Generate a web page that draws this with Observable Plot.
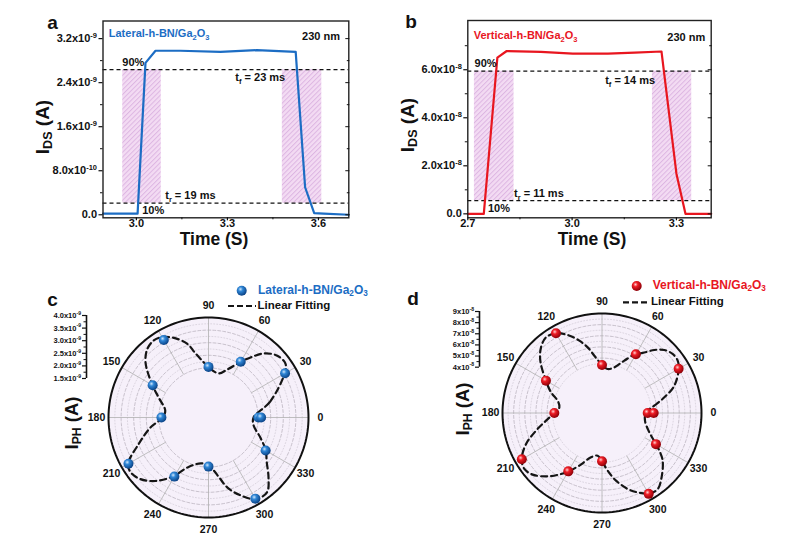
<!DOCTYPE html>
<html><head><meta charset="utf-8">
<script src="https://cdn.jsdelivr.net/npm/d3@7"></script>
<script src="https://cdn.jsdelivr.net/npm/@observablehq/plot@0.6"></script>
<style>
html,body{margin:0;padding:0;background:#fff;}
#root{position:relative;width:787px;height:538px;overflow:hidden;background:#fff;font-family:"Liberation Sans",Arial,sans-serif;font-weight:bold;color:#111;}
.ttl{position:absolute;font-size:17.5px;font-weight:bold;white-space:nowrap;transform:translate(-50%,-50%);line-height:1;}
.rot{transform:translate(-50%,-50%) rotate(-90deg);}
.big{font-size:19px;}
.mid{font-size:18.5px;}
.ttl sub{font-size:66%;vertical-align:-0.28em;}
.plab{position:absolute;font-size:19px;font-weight:bold;transform:translate(-50%,-50%);line-height:1;}
.leg{position:absolute;font-size:11.5px;font-weight:bold;white-space:nowrap;transform:translateY(-50%);line-height:1;}
.leg sub{font-size:68%;vertical-align:-0.25em;}
</style></head>
<body><div id="root">
<svg width="0" height="0" style="position:absolute;left:0;top:0">
<defs>
<pattern id="hatch" patternUnits="userSpaceOnUse" width="3.4" height="3.4" patternTransform="rotate(45)">
<rect width="3.4" height="3.4" fill="#f3dbf3"/>
<line x1="0.5" y1="0" x2="0.5" y2="3.4" stroke="#ddb6e2" stroke-width="1"/>
</pattern>
<radialGradient id="ballBlue" cx="0.38" cy="0.35" r="0.65">
<stop offset="0" stop-color="#cfe6fb"/><stop offset="0.35" stop-color="#2f86d6"/><stop offset="1" stop-color="#0b4386"/>
</radialGradient>
<radialGradient id="ballRed" cx="0.38" cy="0.35" r="0.65">
<stop offset="0" stop-color="#ffd0d0"/><stop offset="0.35" stop-color="#ee1c25"/><stop offset="1" stop-color="#8e0008"/>
</radialGradient>
</defs></svg>
</div>
<script>
// ---------- Panel a data ----------
const aTime = [2.89, 3.004, 3.030, 3.063, 3.145, 3.277, 3.397, 3.525, 3.556, 3.586, 3.617, 3.70];
const aCurrent = [0.02e-9, 0.02e-9, 2.76e-9, 2.98e-9, 2.98e-9, 2.96e-9, 2.99e-9, 2.96e-9, 0.50e-9, 0.03e-9, 0.02e-9, 0.0];
const aLevels = [2.636e-9, 0.21e-9];           // 90% and 10%
const aWindowStart = [2.955, 3.481];
const aWindowEnd = [3.082, 3.611];
const aXTicks = [3.0, 3.3, 3.6];
const aXMinor = [3.15, 3.45];
const aYTicks = [0, 0.8e-9, 1.6e-9, 2.4e-9, 3.2e-9];
const aYTickLabels = ["0.0", "8.0x10^{-10}", "1.6x10^{-9}", "2.4x10^{-9}", "3.2x10^{-9}"];
const aYMinor = [0.4e-9, 1.2e-9, 2.0e-9, 2.8e-9];

// ---------- Panel b data ----------
const bTime = [2.70, 2.746, 2.785, 2.812, 2.910, 3.002, 3.103, 3.180, 3.257, 3.300, 3.326, 3.40];
const bCurrent = [0, 0, 6.50e-8, 6.78e-8, 6.74e-8, 6.67e-8, 6.67e-8, 6.71e-8, 6.76e-8, 1.67e-8, 0, 0];
const bLevels = [5.94e-8, 0.55e-8];
const bWindowStart = [2.719, 3.231];
const bWindowEnd = [2.833, 3.344];
const bXTicks = [2.7, 3.0, 3.3];
const bXMinor = [2.85, 3.15];
const bYTicks = [0, 2e-8, 4e-8, 6e-8];
const bYTickLabels = ["0.0", "2.0x10^{-8}", "4.0x10^{-8}", "6.0x10^{-8}"];
const bYMinor = [1e-8, 3e-8, 5e-8, 7e-8];

// ---------- Panel c data (polar) ----------
const cAngle = [0, 30, 60, 90, 120, 150, 180, 210, 240, 270, 300, 330, 360];
const cValue = [2.01e-9, 3.54e-9, 2.59e-9, 2.04e-9, 3.58e-9, 2.59e-9, 1.90e-9, 3.70e-9, 2.74e-9, 1.98e-9, 3.75e-9, 2.65e-9, 2.12e-9];
const cFitAngle = [0, 14.5, 30, 35, 42, 49, 55, 60, 69, 77, 90, 95, 102, 106, 114, 121, 126, 132, 139, 150, 158, 171, 180, 190, 201, 210, 215, 222, 230, 239, 247, 262, 274, 280, 285, 292, 300, 308, 315, 323, 330, 339, 350];
const cFitValue = [1.82, 2.56, 3.52, 3.76, 3.70, 3.40, 2.94, 2.58, 2.06, 1.83, 2.02, 2.23, 2.67, 3.07, 3.50, 3.74, 3.78, 3.67, 3.34, 2.60, 2.17, 1.77, 1.86, 2.38, 3.01, 3.72, 3.81, 3.68, 3.32, 2.76, 2.19, 1.87, 2.08, 2.44, 2.90, 3.35, 3.77, 3.80, 3.40, 2.92, 2.66, 2.23, 1.85].map(v => v * 1e-9);
const cRadTicks = [1.5e-9, 2.0e-9, 2.5e-9, 3.0e-9, 3.5e-9, 4.0e-9];
const cRadTickLabels = ["1.5x10^{-9}", "2.0x10^{-9}", "2.5x10^{-9}", "3.0x10^{-9}", "3.5x10^{-9}", "4.0x10^{-9}"];
const cGridMajor = [2.0e-9, 2.5e-9, 3.0e-9, 3.5e-9];
const cGridMinor = [2.25e-9, 2.75e-9, 3.25e-9, 3.75e-9];

// ---------- Panel d data (polar) ----------
const dAngle = [0, 30, 60, 90, 120, 150, 180, 210, 240, 270, 300, 330, 360];
const dValue = [4.17e-8, 8.01e-8, 6.15e-8, 4.38e-8, 8.33e-8, 5.88e-8, 4.35e-8, 8.38e-8, 6.12e-8, 4.40e-8, 8.45e-8, 5.66e-8, 4.71e-8];
const dFitAngle = [0.9, 8, 14.1, 20.7, 29.9, 34.7, 39.9, 45.3, 50.3, 55.9, 60.5, 66.9, 74.9, 82.7, 90, 97.6, 102.3, 107.4, 113.8, 120, 126.5, 132.9, 139.7, 150, 157.9, 164.5, 172.4, 180, 187.8, 195, 202.2, 209.8, 215.8, 221.6, 229.4, 236.1, 240, 246.7, 256, 264.2, 270, 275.6, 281.7, 288.7, 294.2, 300.5, 306.2, 312.8, 321.8, 326.7, 330.1, 337.8, 349.9];
const dFitValue = [4.02, 4.81, 5.84, 7.01, 8.01, 8.33, 8.33, 8.03, 7.42, 6.58, 6.15, 5.18, 4.31, 4.05, 4.38, 5.26, 6.10, 6.88, 7.72, 8.33, 8.52, 8.11, 7.33, 5.88, 5.01, 4.20, 3.93, 4.35, 5.14, 6.20, 7.43, 8.38, 8.66, 8.40, 7.56, 6.67, 6.12, 5.21, 4.17, 3.92, 4.40, 5.27, 6.27, 7.27, 7.88, 8.45, 8.53, 7.94, 7.00, 6.23, 5.66, 4.66, 3.99].map(v => v * 1e-8);
const dRadTicks = [4e-8, 5e-8, 6e-8, 7e-8, 8e-8, 9e-8];
const dRadTickLabels = ["4x10^{-8}", "5x10^{-8}", "6x10^{-8}", "7x10^{-8}", "8x10^{-8}", "9x10^{-8}"];
const dGridMajor = [5e-8, 6e-8, 7e-8, 8e-8];
const dGridMinor = [4.5e-8, 5.5e-8, 6.5e-8, 7.5e-8, 8.5e-8];

const angleLabels = [0, 30, 60, 90, 120, 150, 180, 210, 240, 270, 300, 330];

// ---------- helpers ----------
const root = document.getElementById("root");
const NS = "http://www.w3.org/2000/svg";
const FONT = "'Liberation Sans', Arial, sans-serif";
const BLUE = "#1c6dc4", RED = "#e8161f";

function richText(svg) {
  svg.querySelectorAll("text").forEach(t => {
    const s = t.textContent;
    if (!/[_^]\{/.test(s)) return;
    const fs = parseFloat(getComputedStyle(t).fontSize) || 10;
    while (t.firstChild) t.removeChild(t.firstChild);
    const re = /([_^])\{([^}]*)\}/g;
    let last = 0, m, shift = 0;
    const add = (str, kind) => {
      if (!str) return;
      const ts = document.createElementNS(NS, "tspan");
      const target = kind === "_" ? fs * 0.28 : kind === "^" ? -fs * 0.42 : 0;
      ts.setAttribute("dy", (target - shift).toFixed(2));
      shift = target;
      if (kind) ts.setAttribute("font-size", (fs * 0.68).toFixed(2));
      ts.textContent = str;
      t.appendChild(ts);
    };
    while ((m = re.exec(s))) { add(s.slice(last, m.index), null); add(m[2], m[1]); last = re.lastIndex; }
    add(s.slice(last), null);
  });
}
function place(node, left, top) {
  node.style.position = "absolute";
  node.style.left = left + "px";
  node.style.top = top + "px";
  root.appendChild(node);
  richText(node);
  return node;
}
function html(cls, inner, left, top, extra) {
  const d = document.createElement("div");
  d.className = cls;
  d.innerHTML = inner;
  d.style.left = left + "px";
  d.style.top = top + "px";
  if (extra) Object.assign(d.style, extra);
  root.appendChild(d);
  return d;
}
const baseStyle = {background: "transparent", overflow: "visible", fontFamily: FONT, fontWeight: "bold", fontSize: "10px", color: "#111", maxWidth: "none"};

// ---------- transient panels ----------
function transient(cfg) {
  const idx = cfg.time.map((_, i) => i);
  const win = cfg.winStart.map((s, i) => ({s, e: cfg.winEnd[i]}));
  const fmtY = d => cfg.yLabels[cfg.yTicks.indexOf(d)];
  const notes = anchor => Plot.text(cfg.notes, {filter: d => d.anchor === anchor, x: "x", y: "y", text: "t", textAnchor: anchor,
    fill: d => d.color || "#111", fontSize: 11, fontWeight: "bold"});
  return Plot.plot({
    width: cfg.width, height: cfg.height,
    marginLeft: cfg.fx0 - cfg.left, marginRight: cfg.left + cfg.width - cfg.fx1,
    marginTop: cfg.fy0 - cfg.top, marginBottom: cfg.top + cfg.height - cfg.fy1,
    x: {domain: cfg.xDomain}, y: {domain: cfg.yDomain},
    style: baseStyle,
    marks: [
      Plot.rect(win, {x1: "s", x2: "e", y1: cfg.levels[1], y2: cfg.levels[0], fill: "url(#hatch)"}),
      Plot.ruleY(cfg.levels, {stroke: "#111", strokeWidth: 1.2, strokeDasharray: "4,3"}),
      Plot.line(idx, {x: i => cfg.time[i], y: i => cfg.current[i], stroke: cfg.color, strokeWidth: 2.2, strokeLinejoin: "round"}),
      notes("start"), notes("middle"), notes("end"),
      Plot.frame({stroke: "#222", strokeWidth: 1.4}),
      Plot.axisY({ticks: cfg.yTicks, tickFormat: fmtY, tickSize: 4, tickPadding: 2, fontSize: 11, label: null, strokeWidth: 1.2}),
      Plot.axisY({ticks: cfg.yMinor, tickFormat: () => "", tickSize: 2.5, label: null}),
      Plot.axisY({anchor: "right", ticks: cfg.yTicks, tickFormat: () => "", tickSize: -4, label: null}),
      Plot.axisY({anchor: "right", ticks: cfg.yMinor, tickFormat: () => "", tickSize: -2.5, label: null}),
      Plot.axisX({ticks: cfg.xTicks, tickFormat: d => d.toFixed(1), tickSize: 3, tickPadding: -1.5, fontSize: 11, label: null, strokeWidth: 1.2}),
      Plot.axisX({ticks: cfg.xMinor, tickFormat: () => "", tickSize: 2, label: null})
    ]
  });
}

const plotA = transient({
  left: 0, top: 0, width: 362, height: 250, fx0: 102.5, fx1: 348.3, fy0: 20.5, fy1: 217.3,
  xDomain: [2.89, 3.70], yDomain: [-0.055e-9, 3.52e-9],
  time: aTime, current: aCurrent, levels: aLevels, winStart: aWindowStart, winEnd: aWindowEnd,
  color: BLUE, xTicks: aXTicks, xMinor: aXMinor, yTicks: aYTicks, yLabels: aYTickLabels, yMinor: aYMinor,
  notes: [
    {x: 2.909, y: 3.29e-9, t: "Lateral-h-BN/Ga_{2}O_{3}", anchor: "start", color: BLUE},
    {x: 3.671, y: 3.24e-9, t: "230 nm", anchor: "end"},
    {x: 2.99, y: 2.76e-9, t: "90%", anchor: "middle"},
    {x: 3.326, y: 2.49e-9, t: "t_{f} = 23 ms", anchor: "start"},
    {x: 3.095, y: 0.35e-9, t: "t_{r} = 19 ms", anchor: "start"},
    {x: 3.019, y: 0.078e-9, t: "10%", anchor: "start"}
  ]
});
place(plotA, 0, 0);

const plotB = transient({
  left: 380, top: 0, width: 380, height: 250, fx0: 467.3, fx1: 710.7, fy0: 20, fy1: 217.3,
  xDomain: [2.7, 3.4], yDomain: [-0.165e-8, 8.05e-8],
  time: bTime, current: bCurrent, levels: bLevels, winStart: bWindowStart, winEnd: bWindowEnd,
  color: RED, xTicks: bXTicks, xMinor: bXMinor, yTicks: bYTicks, yLabels: bYTickLabels, yMinor: bYMinor,
  notes: [
    {x: 2.717, y: 7.43e-8, t: "Vertical-h-BN/Ga_{2}O_{3}", anchor: "start", color: RED},
    {x: 3.383, y: 7.36e-8, t: "230 nm", anchor: "end"},
    {x: 2.7194, y: 6.25e-8, t: "90%", anchor: "start"},
    {x: 3.095, y: 5.55e-8, t: "t_{f} = 14 ms", anchor: "start"},
    {x: 2.833, y: 0.86e-8, t: "t_{r} = 11 ms", anchor: "start"},
    {x: 2.758, y: 0.21e-8, t: "10%", anchor: "start"}
  ]
});
place(plotB, 380, 0);

// ---------- polar panels ----------
const RAD = Math.PI / 180;
const ring = d3.range(0, 360, 2);
function polar(cfg) {
  const rs = d3.scaleLinear().domain(cfg.radDomain).range([cfg.innerFrac, 1]);
  const X = (v, a) => rs(v) * Math.cos(a * RAD);
  const Y = (v, a) => rs(v) * Math.sin(a * RAD);
  const pad = cfg.pad, R = cfg.R;
  const pts = cfg.angle.map((a, i) => ({a, v: cfg.value[i]}));
  const fit = cfg.fitAngle.map((a, i) => ({a, v: cfg.fitValue[i]}));
  const grid = (vals) => vals.flatMap(v => ring.map(a => ({a, v})));
  const outer = cfg.radDomain[1];
  return Plot.plot({
    width: 2 * (R + pad), height: 2 * (R + pad), margin: 0,
    x: {domain: [-1, 1], range: [pad, pad + 2 * R], axis: null},
    y: {domain: [-1, 1], range: [pad + 2 * R, pad], axis: null},
    style: baseStyle,
    marks: [
      Plot.line(ring, {x: a => X(outer, a), y: a => Y(outer, a), curve: "linear-closed", fill: "#f6f0fa", stroke: "none"}),
      Plot.line(grid(cfg.gridMinor), {x: d => X(d.v, d.a), y: d => Y(d.v, d.a), z: "v", curve: "linear-closed", stroke: "#c9c2cf", strokeWidth: 0.6, strokeDasharray: "1,2"}),
      Plot.line(grid(cfg.gridMajor), {x: d => X(d.v, d.a), y: d => Y(d.v, d.a), z: "v", curve: "linear-closed", stroke: "#b3acb8", strokeWidth: 0.7, strokeDasharray: "3,2"}),
      Plot.link(angleLabels, {x1: a => X(cfg.spokeStart, a), y1: a => Y(cfg.spokeStart, a), x2: a => X(outer, a), y2: a => Y(outer, a), stroke: "#b0b0b0", strokeWidth: 0.8}),
      Plot.line(ring, {x: a => X(outer, a), y: a => Y(outer, a), curve: "linear-closed", stroke: "#111", strokeWidth: 2}),
      Plot.line(fit, {x: d => X(d.v, d.a), y: d => Y(d.v, d.a), curve: "catmull-rom-closed", stroke: "#151515", strokeWidth: 2.2, strokeDasharray: "6,4"}),
      Plot.dot(pts, {x: d => X(d.v, d.a), y: d => Y(d.v, d.a), r: 5, fill: cfg.ball, stroke: "none"}),
      Plot.text(angleLabels, {x: a => 1.12 * Math.cos(a * RAD), y: a => 1.12 * Math.sin(a * RAD), text: a => String(a), fontSize: 10.5, fontWeight: "bold"})
    ]
  });
}
function radialAxis(cfg) {
  const fmt = d => cfg.labels[cfg.ticks.indexOf(d)];
  const minor = cfg.ticks.slice(0, -1).map((t, i) => (t + cfg.ticks[i + 1]) / 2);
  return Plot.plot({
    width: 62, height: cfg.len + 10, marginTop: 5, marginBottom: 5, marginLeft: 56, marginRight: 6,
    x: {domain: [0, 1], axis: null},
    y: {domain: cfg.domain, range: [5 + cfg.len, 5]},
    style: baseStyle,
    marks: [
      Plot.ruleX([0], {stroke: "#111", strokeWidth: 1.6}),
      Plot.axisY({ticks: cfg.ticks, tickFormat: fmt, tickSize: 4, tickPadding: 1.5, fontSize: 7.5, label: null, strokeWidth: 1.2}),
      Plot.axisY({ticks: minor, tickFormat: () => "", tickSize: 2.5, label: null})
    ]
  });
}

const plotC = polar({R: 100, pad: 30, radDomain: [1.5e-9, 4.0e-9], innerFrac: 0.37, angle: cAngle, value: cValue,
  fitAngle: cFitAngle, fitValue: cFitValue, gridMajor: cGridMajor, gridMinor: cGridMinor, spokeStart: 2.0e-9, ball: "url(#ballBlue)"});
place(plotC, 207.7 - 130, 416.7 - 130);
place(radialAxis({domain: [1.5e-9, 4.0e-9], len: 63, ticks: cRadTicks, labels: cRadTickLabels}), 86 - 56, 314.5 - 5);

const plotD = polar({R: 99.5, pad: 30, radDomain: [4e-8, 9e-8], innerFrac: 0.44, angle: dAngle, value: dValue,
  fitAngle: dFitAngle, fitValue: dFitValue, gridMajor: dGridMajor, gridMinor: dGridMinor, spokeStart: 4.5e-8, ball: "url(#ballRed)"});
place(plotD, 601 - 129.5, 412.3 - 129.5);
place(radialAxis({domain: [4e-8, 9e-8], len: 55.7, ticks: dRadTicks, labels: dRadTickLabels}), 479.3 - 56, 311 - 5);

// ---------- titles, panel letters, legends ----------
html("ttl rot big", "I<sub>DS</sub> (A)", 44, 127);
html("ttl rot big", "I<sub>DS</sub> (A)", 409, 125);
html("ttl", "Time (S)", 214, 239.5);
html("ttl", "Time (S)", 592, 239.5);
html("ttl rot mid", "I<sub>PH</sub> (A)", 73, 423);
html("ttl rot mid", "I<sub>PH</sub> (A)", 464, 409);
html("plab", "a", 52.5, 22);
html("plab", "b", 411, 21);
html("plab", "c", 52.5, 299);
html("plab", "d", 413, 298);

function legend(color, ball, text, bx, by, tx, lx0, lx1, ly, fx) {
  const s = document.createElementNS(NS, "svg");
  s.setAttribute("width", 787); s.setAttribute("height", 538);
  s.style.position = "absolute"; s.style.left = "0px"; s.style.top = "0px"; s.style.overflow = "visible";
  s.innerHTML = `<circle cx="${bx}" cy="${by}" r="5" fill="${ball}"/>` +
    `<line x1="${lx0}" y1="${ly}" x2="${lx1}" y2="${ly}" stroke="#151515" stroke-width="2.2" stroke-dasharray="6,3"/>`;
  root.appendChild(s);
  html("leg", text, tx, by, {color, fontSize: "12px"});
  html("leg", "Linear Fitting", fx, ly, {color: "#111"});
}
legend(BLUE, "url(#ballBlue)", "Lateral-h-BN/Ga<sub>2</sub>O<sub>3</sub>", 241.7, 290.7, 258, 228, 256, 306, 257.5);
legend(RED, "url(#ballRed)", "Vertical-h-BN/Ga<sub>2</sub>O<sub>3</sub>", 636.7, 286, 652.7, 623, 650, 302.3, 651);
</script>
</body></html>
